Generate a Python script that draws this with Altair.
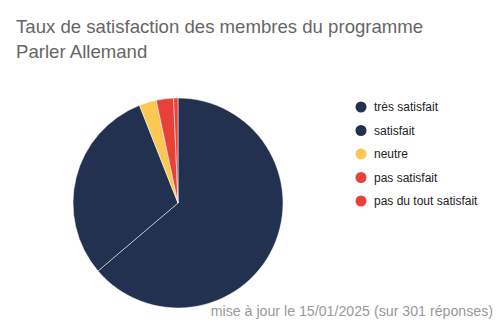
import altair as alt
import pandas as pd

categories = ["très satisfait", "satisfait", "neutre", "pas satisfait", "pas du tout satisfait"]
counts = [192, 91, 8, 8, 2]
colors = ["#22314f", "#22314f", "#fcc854", "#e8413a", "#e8413a"]
title_lines = ["Taux de satisfaction des membres du programme", "Parler Allemand"]
footer = "mise à jour le 15/01/2025 (sur 301 réponses)"

df = pd.DataFrame({"categorie": categories, "reponses": counts, "ordre": list(range(len(categories)))})

FONT = "Liberation Sans"

pie = alt.Chart(df).mark_arc(radius=105, stroke="white", strokeWidth=0.5).encode(
    theta=alt.Theta("reponses:Q", stack=True),
    order=alt.Order("ordre:Q"),
    color=alt.Color(
        "categorie:N",
        scale=alt.Scale(domain=categories, range=colors),
        sort=categories,
        legend=alt.Legend(
            title=None, orient="none", legendX=355, legendY=101,
            symbolType="circle", symbolSize=121, symbolStrokeWidth=0,
            labelFontSize=12, labelColor="#222222", labelFont=FONT,
            rowPadding=11.5, labelOffset=7,
        ),
    ),
    x=alt.value(178),
    y=alt.value(203),
)

title_df = pd.DataFrame({"ligne": title_lines, "rang": [0, 1]})
title = alt.Chart(title_df).mark_text(
    align="left", baseline="alphabetic", fontSize=18.6, font=FONT, color="#666666"
).encode(
    text="ligne:N",
    x=alt.value(16),
    y=alt.Y("rang:Q", scale=alt.Scale(domain=[0, 1], range=[33, 58]), axis=None),
)

foot = alt.Chart(pd.DataFrame({"t": [footer]})).mark_text(
    align="right", baseline="alphabetic", fontSize=14.2, font=FONT, color="#999999"
).encode(text="t:N", x=alt.value(493), y=alt.value(316))

chart = alt.layer(pie, title, foot).resolve_scale(y="independent").properties(
    width=498, height=324, autosize=alt.AutoSizeParams(type="none"), padding=0
).configure_view(stroke=None)

chart.save("out.html", embed_options={"renderer": "svg", "actions": False})
